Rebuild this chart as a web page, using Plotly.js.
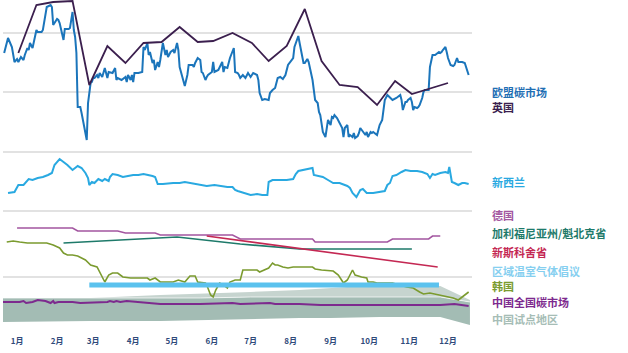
<!DOCTYPE html>
<html><head><meta charset="utf-8">
<script src="https://cdn.plot.ly/plotly-3.0.1.min.js"></script>
<style>html,body{margin:0;padding:0;background:#fff}#chart{width:628px;height:353px}</style>
</head><body><div id="chart"></div>
<script>
// x = day of year, y = relative price level (no scale shown in the original)
const monthTicks = [15,46,74,105,135,166,196,227,258,288,319,349];
const monthLabels = ['1月','2月','3月','4月','5月','6月','7月','8月','9月','10月','11月','12月'];
const gridVals = [297,238,178,119,53,1];

const euX = [5,8,11,13,15,16,18,20,21,23,24,25,27,29,30,31,34,35,37,38,41,42,43,44,46,47,48,51,52,55,56,58,59,60,61,62,64,65,67,69,70,72,73,74,75,77,78,79,81,82,83,85,86,89,91,92,93,96,99,100,101,103,104,105,106,109,112,113,114,116,117,118,120,121,122,124,125,126,127,128,130,131,132,134,136,137,139,140,141,143,144,145,147,148,151,152,153,155,157,158,159,161,162,163,166,167,168,171,174,175,176,178,180,182,183,184,186,187,188,190,192,194,196,198,201,202,203,205,207,210,211,213,215,217,219,221,223,225,227,229,230,232,233,234,236,237,238,240,241,242,244,245,246,248,249,250,251,252,254,255,256,258,259,260,261,263,265,267,268,269,271,272,273,275,276,277,279,280,281,282,283,285,286,287,289,290,291,294,295,296,298,299,300,302,304,306,309,312,313,314,316,317,318,320,321,322,323,325,326,327,329,330,331,334,335,337,339,341,342,343,344,345,347,348,349,351,353,354,356,357,360,362,364,365];
const euY = [277,292,283,268,271,268,273,270,275,282,280,287,282,295,300,298,298,300,318,323,325,323,305,307,311,310,307,290,301,301,302,318,300,293,277,223,223,217,203,190,227,247,248,252,252,255,252,257,253,258,262,252,258,257,262,250,252,250,253,248,255,250,255,248,257,257,258,283,280,287,275,278,267,270,260,268,263,270,280,287,275,280,273,278,280,277,287,280,263,252,248,244,255,265,265,263,267,272,270,258,257,250,253,255,258,268,258,260,268,258,263,262,272,280,282,258,257,255,252,255,252,257,253,257,255,250,237,230,231,230,237,240,242,252,253,251,255,265,268,272,283,292,294,287,275,267,267,271,268,263,250,240,230,227,218,215,203,198,193,202,210,205,213,212,215,212,207,202,193,202,205,193,195,193,197,192,194,197,202,200,198,195,198,193,198,197,198,195,200,205,210,223,230,235,232,230,232,235,230,220,228,228,230,232,228,220,223,222,223,225,232,238,240,240,263,275,275,277,278,277,278,280,283,278,272,265,264,265,272,268,268,267,260,255];

const ukX = [16,30,43,58,71,85,99,113,127,141,155,167,182,188,197,210,224,238,251,265,279,294,308,321,334,349];
const ukY = [277,325,328,329,245,284,267,287,288,303,288,289,297,293,287,269,284,321,269,245,243,225,249,236,241,247];

const nzX = [8,13,16,20,24,27,31,35,39,42,44,48,51,54,58,60,62,65,68,70,71,73,75,78,81,83,86,87,89,93,97,101,105,109,113,120,122,124,128,136,141,145,149,153,157,162,168,172,178,182,184,186,192,196,201,205,209,210,213,219,224,229,231,233,236,240,244,245,248,252,256,260,265,271,273,275,278,279,281,283,286,291,296,300,302,304,306,309,313,316,320,325,329,333,335,337,339,343,347,349,350,352,354,357,360,362,365];
const nzY = [137,138,145,145,151,150,152,153,155,157,165,171,168,165,160,162,164,162,157,152,145,148,147,151,149,151,149,153,156,155,153,154,155,155,156,154,153,146,146,147,147,148,147,146,145,144,145,144,143,143,140,139,137,135,136,135,135,148,150,150,150,151,156,159,160,161,162,155,154,153,150,147,147,144,142,137,133,135,140,141,137,137,138,139,145,147,154,155,158,160,159,159,158,156,152,156,155,157,158,157,163,148,147,145,147,147,146];

const deX = [15,58,62,93,99,122,126,182,188,244,246,302,306,334,337,343];
const deY = [102,102,99,99,97,97,95,95,91,91,88,88,91,91,94,94];

const caX = [51,139,188,234,321];
const caY = [87,93,86,81,81];

const nsX = [162,341];
const nsY = [94,63];

const rgX = [71,342];
const rgY = [45,45];

const krX = [7,12,17,23,30,38,43,47,48,51,54,58,62,68,72,77,79,83,86,89,93,97,103,110,116,118,122,126,131,136,140,145,149,153,155,161,162,165,167,169,172,175,178,180,184,188,190,193,201,203,206,210,213,215,217,221,225,229,234,238,244,246,251,260,264,268,271,275,277,282,286,287,291,294,306,317,322,327,330,335,343,348,353,357,360,362,365];
const krY = [88,89,88,87,87,87,85,83,82,77,75,75,74,70,65,63,58,48,55,57,57,53,52,52,52,50,52,48,48,48,50,48,54,54,48,47,45,35,33,40,47,45,42,48,50,50,60,60,60,58,60,62,67,65,65,63,62,63,63,63,63,61,60,59,55,47,50,60,55,53,52,48,48,47,47,43,42,38,36,37,35,34,32,30,33,35,38];

const cnX = [4,17,20,22,27,31,37,41,43,44,47,58,64,79,85,87,90,92,95,100,110,120,126,157,176,182,188,211,215,234,250,281,312,343,354,358,365];
const cnY = [28,28,29,27,28,30,29,27,29,27,28,28,27,28,28,29,28,29,28,29,28,27,26,26,27,27,26,27,26,26,25,25,25,25,26,25,24];

const pilotX = [4,72,126,157,196,234,258,296,343,366];
const pilotHigh = [32,32,35,36,38,40,42,45,44,30];
const pilotMid = [32,32,32,32,33,33,33,33,33,28];
const pilotLow = [8,9,9,10,11,12,12,13,13,5];

const legendNames = ['欧盟碳市场','英国','新西兰','德国','加利福尼亚州/魁北克省','新斯科舍省','区域温室气体倡议','韩国','中国全国碳市场','中国试点地区'];
const legendColors = ['#1f6fb4','#3b1f4e','#29a9e1','#a356a0','#1e7a6a','#c42853','#86cff0','#7b9b2f','#7d2a8e','#a6bdb6'];
const legendY = [92,107,182,215,233,252,271,286,302,319];

const traces = [
  {x: pilotX, y: pilotLow, mode:'lines', line:{width:0, color:'rgba(0,0,0,0)'}, hoverinfo:'skip'},
  {x: pilotX, y: pilotMid, mode:'lines', fill:'tonexty', fillcolor:'#a3bcb4', line:{width:1, color:'rgba(255,255,255,0.7)'}},
  {x: pilotX, y: pilotHigh, mode:'lines', fill:'tonexty', fillcolor:'#c6d4cf', line:{width:0, color:'rgba(0,0,0,0)'}},
  {x: cnX, y: cnY, mode:'lines', line:{width:2, color:'#7d2a8e'}},
  {x: krX, y: krY, mode:'lines', line:{width:1.6, color:'#7b9b2f'}},
  {x: rgX, y: rgY, mode:'lines', line:{width:5, color:'#5bc2ee'}},
  {x: deX, y: deY, mode:'lines', line:{width:1.6, color:'#a356a0'}},
  {x: caX, y: caY, mode:'lines', line:{width:1.6, color:'#1e7a6a'}},
  {x: nsX, y: nsY, mode:'lines', line:{width:1.6, color:'#c42853'}},
  {x: nzX, y: nzY, mode:'lines', line:{width:2, color:'#29a9e1'}},
  {x: euX, y: euY, mode:'lines', line:{width:2, color:'#1b75bb'}},
  {x: ukX, y: ukY, mode:'lines', line:{width:1.8, color:'#3b1f4e'}}
];

const annotations = legendNames.map((t,i)=>({
  xref:'paper', yref:'paper', x: (491-3)/469, y: 1 - legendY[i]/330,
  xanchor:'left', yanchor:'middle', showarrow:false, text:t, borderpad:0,
  font:{family:'Noto Sans CJK SC', size:11, weight:'bold', color: legendColors[i]}
}));

const layout = {
  width:628, height:353,
  margin:{l:3, r:156, t:0, b:23},
  paper_bgcolor:'#fff', plot_bgcolor:'#fff',
  showlegend:false,
  xaxis:{range:[4.1,367.6], tickvals: monthTicks, ticktext: monthLabels, showgrid:false, zeroline:false,
    showline:false, ticks:'outside', ticklen:3, tickcolor:'rgba(0,0,0,0)',
    tickfont:{family:'Noto Sans CJK SC', size:8, weight:'bold', color:'#2f4a7a'}},
  yaxis:{range:[0,330], tickvals: gridVals, showticklabels:false, showgrid:true, gridcolor:'#e2e2e2', gridwidth:1.5, zeroline:false, showline:false},
  annotations: annotations
};
Plotly.newPlot('chart', traces, layout, {staticPlot:true});
</script></body></html>
